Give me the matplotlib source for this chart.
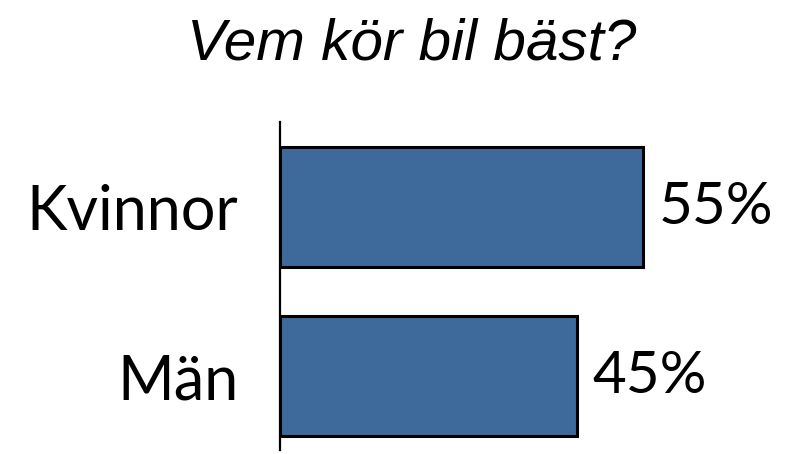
import matplotlib
matplotlib.use('Agg')
import matplotlib.pyplot as plt

categories = ['Män', 'Kvinnor']
values = [45, 55]
value_labels = ['45%', '55%']

fig = plt.figure(figsize=(7.96, 4.54), dpi=100)
W, H = 796, 454
# axes placed in pixel terms: left spine at x=280, top y=122, bottom y=450
ax = fig.add_axes([280 / W, (H - 450) / H, (676 - 280) / W, (450 - 122) / H])

bar_color = '#3d6a9a'
ax.barh(range(len(categories)), values, height=0.712, color=bar_color,
        edgecolor='black', linewidth=2.2)

ax.set_xlim(0, 60)
ax.set_ylim(-0.439, 1.507)

for s in ['top', 'right', 'bottom']:
    ax.spines[s].set_visible(False)
ax.spines['left'].set_linewidth(1.6)
ax.set_xticks([])
ax.set_yticks(range(len(categories)))
ax.set_yticklabels(categories, fontsize=44, family='Lato')
ax.tick_params(axis='y', length=0, pad=30)

for i, (v, lab) in enumerate(zip(values, value_labels)):
    ax.text(v + 2.4, i, lab, va='center', ha='left', fontsize=42, family='Lato')

fig.text(412 / W, 1 - 60 / H, 'Vem kör bil bäst?', ha='center', va='baseline',
         fontsize=42, style='italic', family='Liberation Sans')

fig.savefig('out.png', dpi=100, facecolor='white')
